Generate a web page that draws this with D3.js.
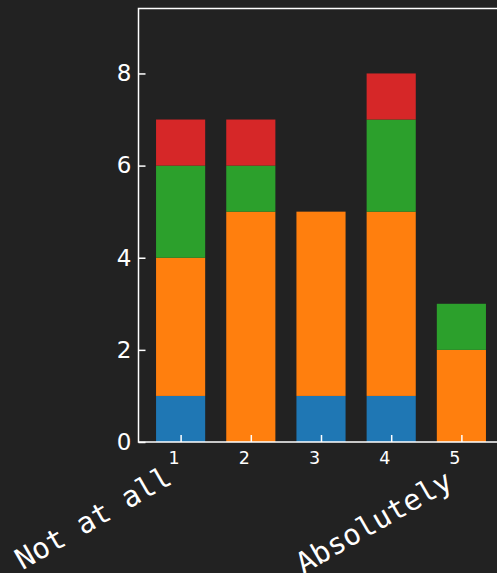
<!DOCTYPE html>
<html>
<head>
<meta charset="utf-8">
<script src="https://cdn.jsdelivr.net/npm/d3@7"></script>
<style>
  html, body { margin: 0; padding: 0; background: #222222; }
  svg { display: block; }
</style>
</head>
<body>
<svg id="chart" width="497" height="573"></svg>
<script>
// Response categories (1 = "Not at all" ... 5 = "Absolutely")
const categories = [1, 2, 3, 4, 5];
// Stacked counts per group, in drawing order from the bottom up
const seriesA = [1, 0, 1, 1, 0];
const seriesB = [3, 5, 4, 4, 2];
const seriesC = [2, 1, 0, 2, 1];
const seriesD = [1, 1, 0, 1, 0];
const yTicks = [0, 2, 4, 6, 8];
const endLabels = ["Not at all", "Absolutely"];

const colors = ["#1f77b4", "#ff7f0e", "#2ca02c", "#d62728"];
const keys = ["a", "b", "c", "d"];
const rows = categories.map((c, i) => ({
  cat: c, a: seriesA[i], b: seriesB[i], c: seriesC[i], d: seriesD[i]
}));

const svg = d3.select("#chart");
const fg = "#ffffff";

// Plot area
const plotLeft = 138.5, plotRight = 503.5, plotTop = 8.5, plotBottom = 442;
const x = d3.scaleLinear().domain([0.4, 5.6]).range([plotLeft, plotRight]);
const y = d3.scaleLinear().domain([0, 9.41]).range([plotBottom, plotTop]);
const barW = x(0.7) - x(0);

const stack = d3.stack().keys(keys)(rows);

svg.append("g")
  .selectAll("g")
  .data(stack)
  .join("g")
  .attr("fill", (d, i) => colors[i])
  .selectAll("rect")
  .data(d => d)
  .join("rect")
  .attr("x", d => x(d.data.cat) - barW / 2)
  .attr("width", barW)
  .attr("y", d => y(d[1]))
  .attr("height", d => y(d[0]) - y(d[1]));

// Y axis with inward ticks
const yAxis = d3.axisRight(y).tickValues(yTicks).tickSize(7).tickFormat(d3.format("d"));
const gy = svg.append("g").attr("transform", `translate(${plotLeft},0)`).call(yAxis);
gy.select(".domain").remove();
gy.selectAll(".tick line").attr("stroke", fg).attr("stroke-width", 1.5);
gy.selectAll(".tick text")
  .attr("x", -7)
  .attr("text-anchor", "end")
  .attr("fill", fg)
  .style("font-family", "DejaVu Sans")
  .style("font-size", "23px");

// X axis with inward ticks
const xAxis = d3.axisTop(x).tickValues(categories).tickSize(7).tickFormat(d3.format("d"));
const gx = svg.append("g").attr("transform", `translate(0,${plotBottom})`).call(xAxis);
gx.select(".domain").remove();
gx.selectAll(".tick line").attr("stroke", fg).attr("stroke-width", 1.5);
gx.selectAll(".tick text")
  .attr("x", -7)
  .attr("y", 21.5)
  .attr("text-anchor", "middle")
  .attr("fill", fg)
  .style("font-family", "DejaVu Sans")
  .style("font-size", "17.5px");

// Frame: left, bottom, top spines
svg.append("path")
  .attr("d", `M${plotRight},${plotTop}H${plotLeft}V${plotBottom}H${plotRight}`)
  .attr("fill", "none")
  .attr("stroke", fg)
  .attr("stroke-width", 1.5);

// Scale end descriptions
const endPos = [[x(1) - 7, 483], [x(5) - 7, 487]];
svg.append("g")
  .selectAll("text")
  .data(endLabels)
  .join("text")
  .attr("transform", (d, i) => `translate(${endPos[i][0]},${endPos[i][1]}) rotate(-30)`)
  .attr("text-anchor", "end")
  .attr("fill", fg)
  .style("font-family", "DejaVu Sans Mono")
  .style("font-size", "29px")
  .text(d => d);
</script>
</body>
</html>
